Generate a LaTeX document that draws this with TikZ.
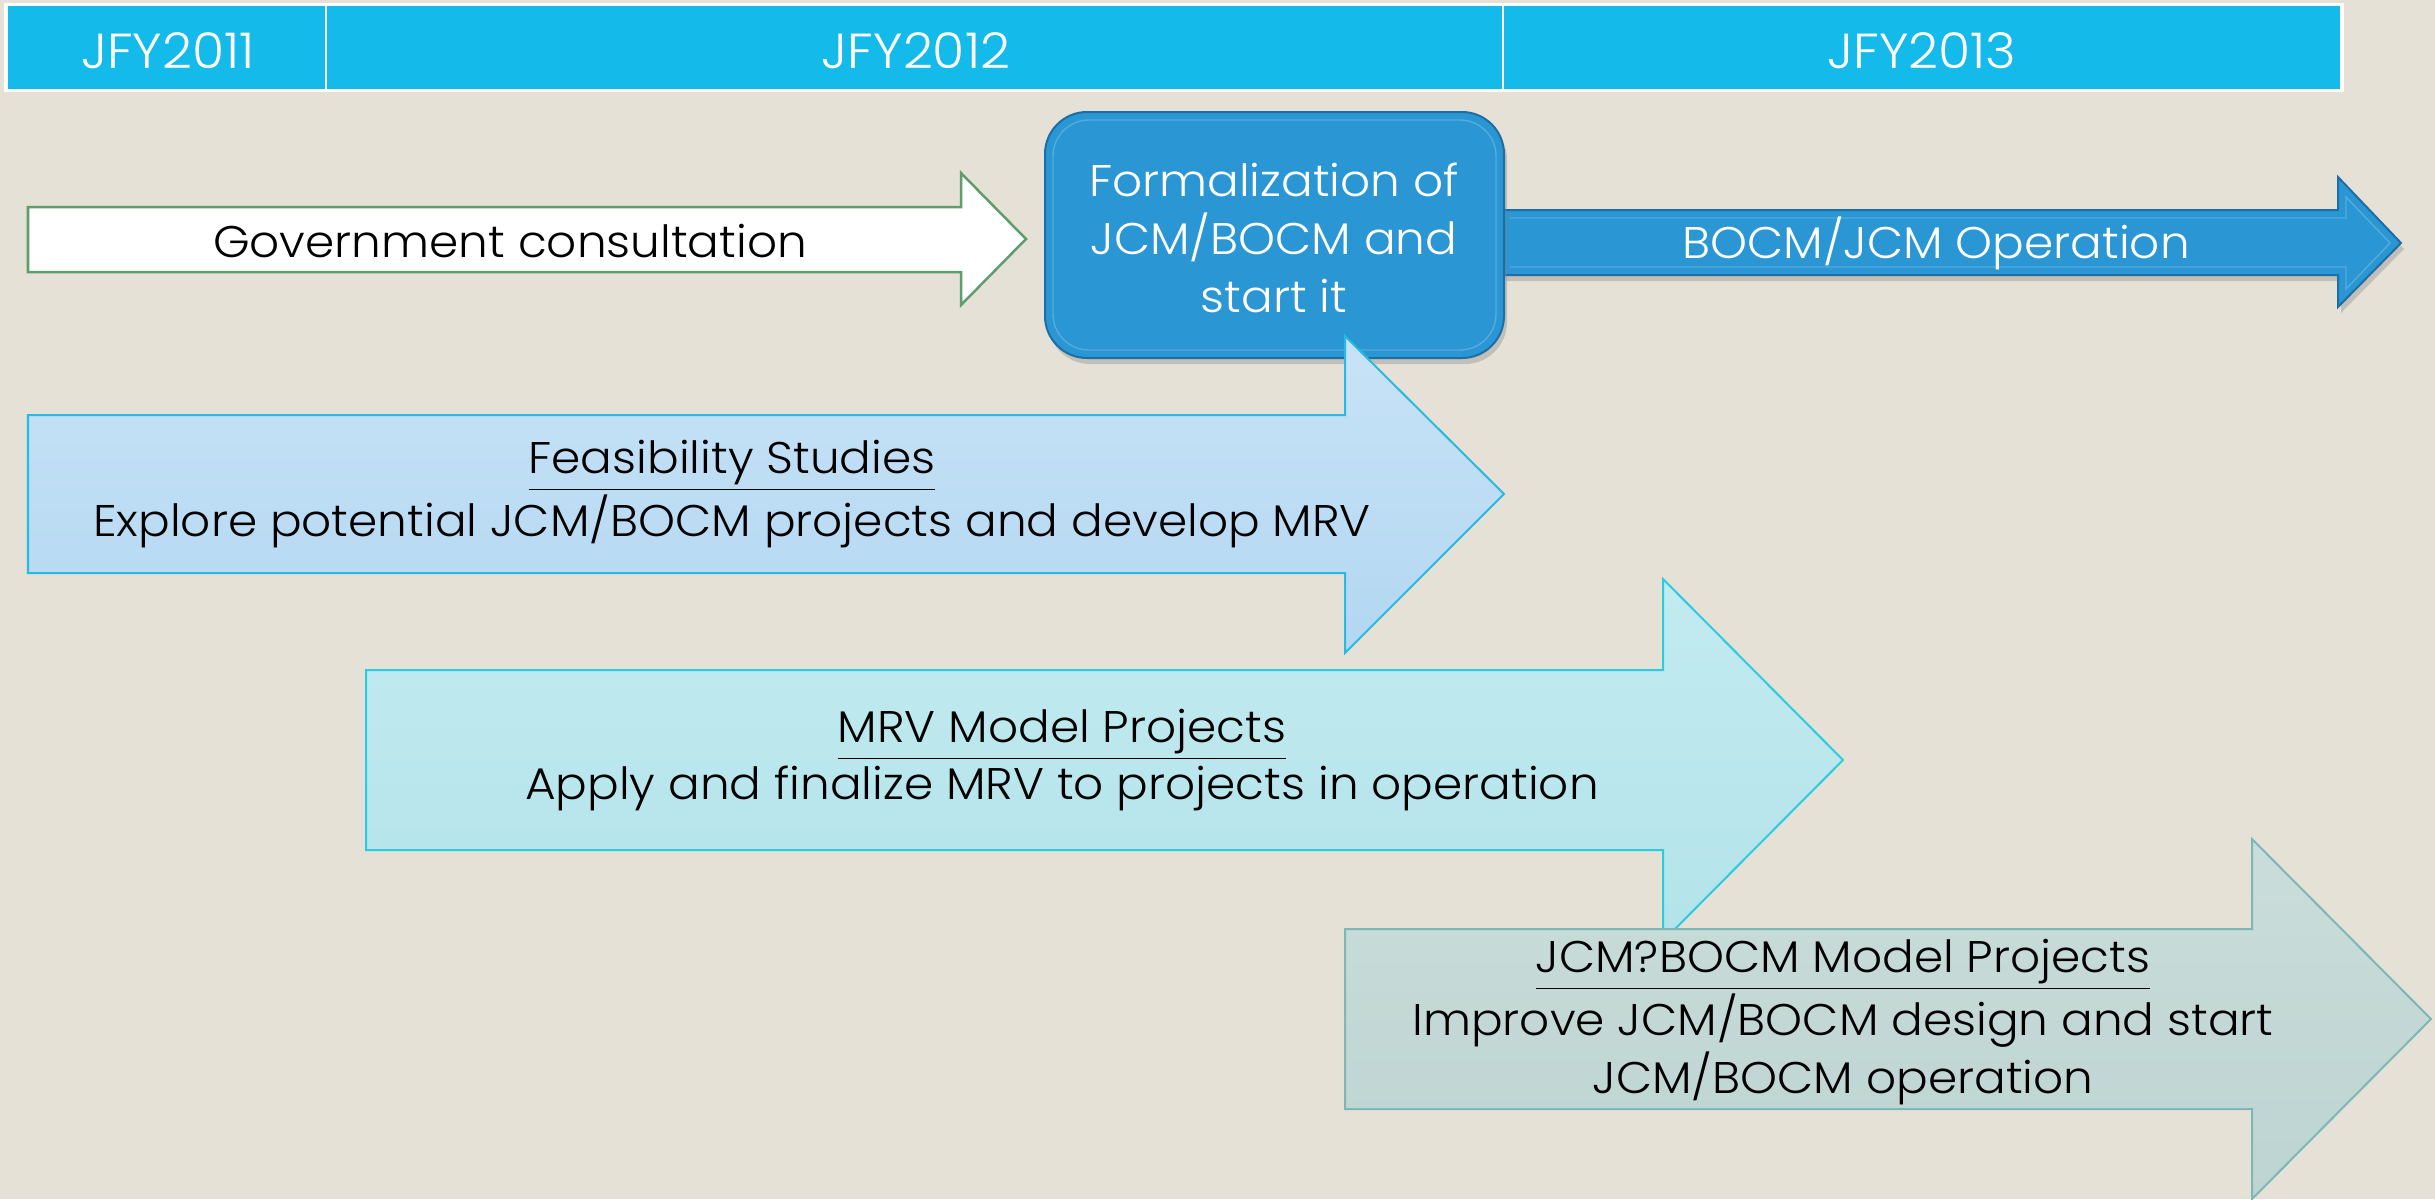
\documentclass[tikz,border=0pt]{standalone}
\usepackage{fontspec}
\setmainfont{Poppins Light}[FakeStretch=1.06]
\usetikzlibrary{shadows}
\definecolor{bgbeige}{HTML}{E5E1D6}
\definecolor{hdrcyan}{HTML}{13BAEA}
\definecolor{govgreen}{HTML}{5E9E6E}
\definecolor{opblue}{HTML}{2A96D4}
\definecolor{opedge}{HTML}{1C6FA6}
\definecolor{fstop}{HTML}{C8E3F7}
\definecolor{fsbot}{HTML}{B2D7F1}
\definecolor{fsedge}{HTML}{29B9E3}
\definecolor{mrvtop}{HTML}{C2EBF0}
\definecolor{mrvbot}{HTML}{B3E3EA}
\definecolor{mrvedge}{HTML}{2DCBE0}
\definecolor{jcmtop}{HTML}{CADDDA}
\definecolor{jcmbot}{HTML}{BDD4D2}
\definecolor{jcmedge}{HTML}{7DB7B6}
\tikzset{
  hdrtext/.style={font=\fontsize{14}{16}\selectfont, text=white, inner sep=0pt},
  lbl/.style={font=\fontsize{12.6}{16.4}\selectfont, align=center, inner sep=0pt},
  wlbl/.style={lbl, text=white},
  softshadow/.style={drop shadow={shadow xshift=0.03cm, shadow yshift=-0.06cm, opacity=0.35}}
}
\begin{document}
\begin{tikzpicture}[x=0.01cm,y=-0.01cm]
\useasboundingbox (0,0) rectangle (2435,1199);
\clip (0,0) rectangle (2435,1199);
\fill[bgbeige] (0,0) rectangle (2435,1199);
% year header
\fill[white] (4,3) rectangle (2344,92);
\fill[hdrcyan] (8,6) rectangle (2340,89);
\draw[white, line width=0.02cm] (326,6) -- (326,89);
\draw[white, line width=0.02cm] (1503,6) -- (1503,89);
\node[hdrtext] (fy11) at (168,51) {JFY2011};
\node[hdrtext] (fy12) at (916,51) {JFY2012};
\node[hdrtext] (fy13) at (1922,51) {JFY2013};
% government consultation
\draw[govgreen, fill=white, line width=0.025cm] (28,207) -- (961,207) -- (961,173) -- (1026,239) -- (961,305) -- (961,272) -- (28,272) -- cycle;
\node[lbl] (govtxt) at (510,241) {Government consultation};
% operation arrow
\draw[opedge, fill=opblue, line width=0.02cm, softshadow] (1503,210) -- (2338,210) -- (2338,177) -- (2401,243) -- (2338,307) -- (2338,275) -- (1503,275) -- cycle;
\draw[white, opacity=0.2] (1510,218) -- (2346,218) -- (2346,197) -- (2390,243) -- (2346,289) -- (2346,267) -- (1510,267);
\node[wlbl] (optxt) at (1936,243) {BOCM/JCM Operation};
% formalization box
\draw[opedge, fill=opblue, line width=0.02cm, rounded corners=0.42cm, softshadow] (1045,112) rectangle (1504,358);
\draw[white, opacity=0.2, rounded corners=0.36cm] (1053,120) rectangle (1496,350);
\node[wlbl] (formtxt) at (1274,238) {Formalization of\\JCM/BOCM and\\start it};
% feasibility studies
\draw[fsedge, top color=fstop, bottom color=fsbot, line width=0.02cm] (28,415) -- (1345,415) -- (1345,336) -- (1504,494) -- (1345,653) -- (1345,573) -- (28,573) -- cycle;
\node[lbl] (fstxt) at (732,494) {\underline{Feasibility Studies}\\Explore potential JCM/BOCM projects and develop MRV};
% MRV model projects
\draw[mrvedge, top color=mrvtop, bottom color=mrvbot, line width=0.02cm] (366,670) -- (1663,670) -- (1663,579) -- (1843,760) -- (1663,941) -- (1663,850) -- (366,850) -- cycle;
\node[lbl] (mrvtxt) at (1062,760) {\underline{MRV Model Projects}\\Apply and finalize MRV to projects in operation};
% JCM/BOCM model projects
\draw[jcmedge, top color=jcmtop, bottom color=jcmbot, line width=0.02cm] (1345,929) -- (2252,929) -- (2252,839) -- (2431,1019) -- (2252,1199) -- (2252,1109) -- (1345,1109) -- cycle;
\node[lbl] (jcmtxt) at (1843,1022) {\underline{JCM?BOCM Model Projects}\\Improve JCM/BOCM design and start\\JCM/BOCM operation};
\end{tikzpicture}
\end{document}
